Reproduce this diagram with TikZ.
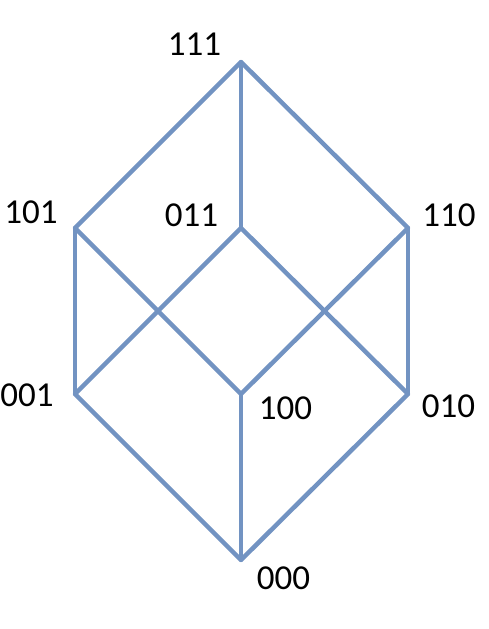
\documentclass[tikz,border=0pt]{standalone}
\usepackage{fontspec}
\setmainfont{Carlito}
\usetikzlibrary{positioning}
\definecolor{edgeblue}{RGB}{114,147,194}

\begin{document}
\begin{tikzpicture}[x=1pt, y=1pt]
		\useasboundingbox (0,0) rectangle (489,629);
		\begin{scope}[every node/.style={inner sep=0pt, minimum size=0pt}]
			\node (v111) at (241,567) {};
			\node (v101) at (75,401) {};
			\node (v011) at (241,401) {};
			\node (v110) at (408,401) {};
			\node (v001) at (75,235) {};
			\node (v100) at (241,235) {};
			\node (v010) at (408,235) {};
			\node (v000) at (241,69) {};
		\end{scope}
		\begin{scope}[every node/.style={inner sep=0pt, font=\fontsize{35}{42}\selectfont}]
			\node (l111) at (194.5,584.5) {111};
			\node (l101) at (31,417) {101};
			\node (l011) at (191.5,414) {011};
			\node (l110) at (449,414) {110};
			\node (l001) at (27,234) {001};
			\node (l100) at (285.5,221) {100};
			\node (l010) at (448.5,223) {010};
			\node (l000) at (283.5,51) {000};
		\end{scope}
		\begin{scope}[every path/.style={draw=edgeblue, line width=4.5pt, line cap=round, line join=round}]
			\path (v111)
			edge (v101)
			edge (v011)
			edge (v110);
			\path (v101)
			edge (v001)
			edge (v100);
			\path (v011)
			edge (v001)
			edge (v010);
			\path (v110)
			edge (v100)
			edge (v010);
			\path (v000)
			edge (v001)
			edge (v100)
			edge (v010);
		\end{scope}
	\end{tikzpicture}
\end{document}
